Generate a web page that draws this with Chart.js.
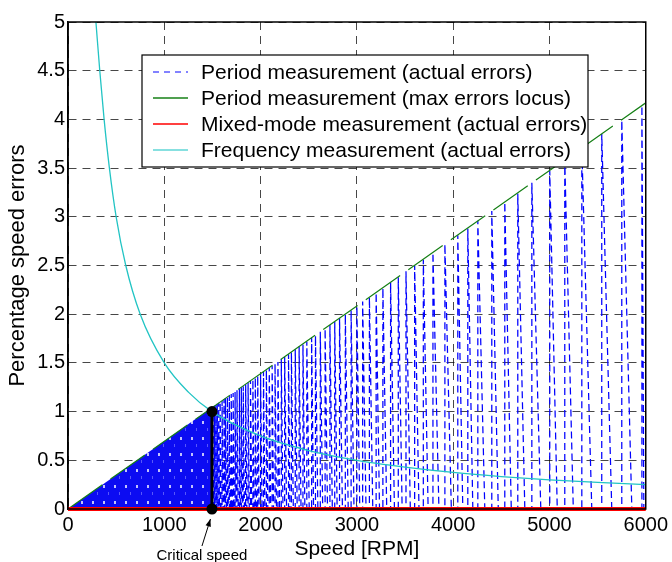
<!DOCTYPE html>
<html>
<head>
<meta charset="utf-8">
<script src="https://cdn.jsdelivr.net/npm/chart.js@4.4.1/dist/chart.umd.min.js"></script>
<style>
  html, body { margin: 0; padding: 0; background: #ffffff; }
  #wrap { width: 672px; height: 562px; position: relative; }
</style>
</head>
<body>
<div id="wrap"><canvas id="c" width="672" height="562"></canvas></div>
<script>
// ---------------- data ----------------
const xTicks = [0, 1000, 2000, 3000, 4000, 5000, 6000];
const xTickLabels = ['0', '1000', '2000', '3000', '4000', '5000', '6000'];
const yTicks = [0, 0.5, 1, 1.5, 2, 2.5, 3, 3.5, 4, 4.5, 5];
const yTickLabels = ['0', '0.5', '1', '1.5', '2', '2.5', '3', '3.5', '4', '4.5', '5'];

// Period measurement (actual errors): positions of the saw-teeth (RPM) and their peak errors (%)
const toothSpeeds = [1505, 1520, 1535, 1550, 1565, 1580, 1600, 1620, 1635, 1655, 1675, 1695, 1715, 1735, 1755,
  1780, 1800, 1820, 1845, 1870, 1895, 1920, 1945, 1970, 2000, 2030, 2060, 2090, 2120, 2150, 2180, 2215,
  2250, 2290, 2320, 2360, 2400, 2440, 2480, 2530, 2570, 2620, 2670, 2720, 2770, 2820, 2880, 2940, 3000,
  3060, 3130, 3200, 3270, 3350, 3430, 3510, 3600, 3690, 3790, 3914, 4048, 4152, 4256, 4401, 4536, 4671,
  4817, 5003, 5159, 5336, 5543, 5751, 5960];
const toothPeaks = [1.05, 1.06, 1.07, 1.08, 1.09, 1.10, 1.11, 1.13, 1.14, 1.15, 1.16, 1.18, 1.19, 1.20, 1.22,
  1.24, 1.25, 1.26, 1.28, 1.30, 1.32, 1.33, 1.35, 1.37, 1.39, 1.41, 1.43, 1.45, 1.47, 1.49, 1.51, 1.54,
  1.56, 1.59, 1.61, 1.64, 1.67, 1.69, 1.72, 1.76, 1.78, 1.82, 1.85, 1.89, 1.92, 1.96, 2.00, 2.04, 2.08,
  2.13, 2.17, 2.22, 2.27, 2.33, 2.38, 2.44, 2.50, 2.56, 2.63, 2.72, 2.81, 2.88, 2.96, 3.06, 3.15, 3.24,
  3.35, 3.47, 3.58, 3.71, 3.85, 3.99, 4.14];
// densely packed low-speed part of the same curve (appears as a solid blue wedge)
const denseSpeeds = [0, 1505];
const denseErrors = [0, 1.05];

// Period measurement (max errors locus)
const locusSpeeds = [0, 6000];
const locusErrors = [0, 4.17];

// Mixed-mode measurement (actual errors)
const mixedSpeeds = [0, 6000];
const mixedErrors = [0, 0];

// Frequency measurement (actual errors)
const freqSpeeds = [290, 330, 375, 430, 500, 600, 750, 1000, 1250, 1495, 2000, 2500, 3000, 3500, 4000, 4500, 5000, 5500, 6000];
const freqErrors = [5.0, 4.5, 4.0, 3.5, 3.0, 2.5, 2.0, 1.5, 1.2, 1.0, 0.75, 0.6, 0.5, 0.43, 0.375, 0.333, 0.3, 0.273, 0.25];

// Critical speed marker
const critSpeeds = [1495, 1495];
const critErrors = [0, 1.0];
const critLabel = 'Critical speed';

const legendLabels = [
  'Period measurement (actual errors)',
  'Period measurement (max errors locus)',
  'Mixed-mode measurement (actual errors)',
  'Frequency measurement (actual errors)'
];
const xTitle = 'Speed [RPM]';
const yTitle = 'Percentage speed errors';

// ---------------- build datasets ----------------
const BLUE = '#0000ff', GREEN = '#168016', RED = '#ff0000', CYAN = '#22c4c4';
const FONT = "'Liberation Sans', Arial, Helvetica, sans-serif";

function pts(xs, ys) { return xs.map((x, i) => ({ x: x, y: ys[i] })); }

const sawPts = [];
for (let i = 0; i < toothSpeeds.length; i++) {
  const x = toothSpeeds[i];
  const next = i + 1 < toothSpeeds.length ? toothSpeeds[i + 1] : 6000;
  const drop = Math.max(2, (next - x) * 0.5);
  sawPts.push({ x: x, y: 0 });
  sawPts.push({ x: x, y: toothPeaks[i] });
  sawPts.push({ x: Math.min(6000, x + drop), y: 0 });
}

// dotted blue texture for the densely packed wedge
function wedgePattern() {
  const c = document.createElement('canvas');
  c.width = 11; c.height = 16;
  const g = c.getContext('2d');
  g.fillStyle = '#0c0cf2';
  g.fillRect(0, 0, 11, 16);
  g.fillStyle = 'rgba(255,255,255,0.75)';
  g.fillRect(4, 5, 2, 3);
  g.fillStyle = 'rgba(140,140,255,0.6)';
  g.fillRect(9, 12, 1, 3);
  return g.createPattern(c, 'repeat');
}

const datasets = [
  { label: 'dense', data: pts(denseSpeeds, denseErrors), borderColor: BLUE, borderWidth: 0,
    backgroundColor: wedgePattern(), fill: 'origin', pointRadius: 0, order: 7 },
  { label: legendLabels[0], data: sawPts, borderColor: BLUE, borderWidth: 1.25, borderDash: [7, 4],
    pointRadius: 0, fill: false, order: 6 },
  { label: legendLabels[1], data: pts(locusSpeeds, locusErrors), borderColor: GREEN, borderWidth: 1.2,
    borderDash: [42, 10], pointRadius: 0, fill: false, order: 5 },
  { label: legendLabels[3], data: pts(freqSpeeds, freqErrors), borderColor: CYAN, borderWidth: 1.3,
    pointRadius: 0, fill: false, cubicInterpolationMode: 'monotone', order: 4 },
  { label: legendLabels[2], data: pts(mixedSpeeds, mixedErrors), borderColor: RED, borderWidth: 4,
    pointRadius: 0, fill: false, clip: false, order: 3 },
  { label: 'critical', data: pts(critSpeeds, critErrors), borderColor: '#000000', borderWidth: 3,
    pointRadius: 5.5, pointBackgroundColor: '#000000', pointBorderColor: '#000000', pointBorderWidth: 0,
    fill: false, clip: false, order: 1 }
];

// ---------------- plugins ----------------
const framePlugin = {
  id: 'frame',
  afterDatasetsDraw(chart) {
    const { ctx, chartArea: a, scales } = chart;
    ctx.save();
    ctx.strokeStyle = '#000000';
    ctx.lineWidth = 1.5;
    ctx.setLineDash([]);
    ctx.strokeRect(a.left, a.top, a.right - a.left, a.bottom - a.top);

    // legend box
    const bx = 142, by = 55, bw = 446, bh = 112;
    ctx.fillStyle = '#ffffff';
    ctx.fillRect(bx, by, bw, bh);
    ctx.lineWidth = 1.2;
    ctx.strokeRect(bx, by, bw, bh);
    const rows = [72, 98, 124, 150];
    const styles = [
      { c: '#5a5aff', dash: [6, 5], w: 1.3 },
      { c: GREEN, dash: [], w: 1.3 },
      { c: RED, dash: [], w: 1.3 },
      { c: '#5fd6d6', dash: [], w: 1.6 }
    ];
    ctx.font = '21px ' + FONT;
    ctx.textBaseline = 'middle';
    ctx.textAlign = 'left';
    for (let i = 0; i < 4; i++) {
      ctx.beginPath();
      ctx.setLineDash(styles[i].dash);
      ctx.strokeStyle = styles[i].c;
      ctx.lineWidth = styles[i].w;
      ctx.moveTo(153, rows[i]);
      ctx.lineTo(188, rows[i]);
      ctx.stroke();
      ctx.setLineDash([]);
      ctx.fillStyle = '#000000';
      ctx.fillText(legendLabels[i], 201, rows[i] + 1);
    }

    // critical speed annotation
    const px = scales.x.getPixelForValue(critSpeeds[0]);
    const py = scales.y.getPixelForValue(critErrors[0]);
    const tipX = px - 1.5, tipY = py + 10;
    const tailX = px - 10, tailY = py + 37;
    ctx.strokeStyle = '#000000';
    ctx.fillStyle = '#000000';
    ctx.lineWidth = 1;
    ctx.beginPath();
    ctx.moveTo(tailX, tailY);
    ctx.lineTo(tipX, tipY);
    ctx.stroke();
    const ang = Math.atan2(tipY - tailY, tipX - tailX);
    ctx.beginPath();
    ctx.moveTo(tipX, tipY);
    ctx.lineTo(tipX - 8 * Math.cos(ang - 0.35), tipY - 8 * Math.sin(ang - 0.35));
    ctx.lineTo(tipX - 8 * Math.cos(ang + 0.35), tipY - 8 * Math.sin(ang + 0.35));
    ctx.closePath();
    ctx.fill();
    ctx.font = '15px ' + FONT;
    ctx.textAlign = 'center';
    ctx.textBaseline = 'middle';
    ctx.fillText(critLabel, px - 10, py + 47);
    ctx.restore();
  }
};

// ---------------- chart ----------------
new Chart(document.getElementById('c'), {
  type: 'line',
  data: { datasets: datasets },
  options: {
    responsive: false,
    animation: false,
    parsing: false,
    normalized: true,
    layout: { padding: { left: 0, right: 26, top: 22, bottom: 0 } },
    plugins: { legend: { display: false }, tooltip: { enabled: false } },
    elements: { line: { tension: 0 } },
    scales: {
      x: {
        type: 'linear', min: 0, max: 6000,
        afterBuildTicks: (s) => { s.ticks = xTicks.map(v => ({ value: v })); },
        afterFit: (s) => { s.height = 53; },
        ticks: {
          color: '#000000', padding: 4, maxRotation: 0, autoSkip: false,
          font: { family: FONT, size: 20 },
          callback: (v) => xTickLabels[xTicks.indexOf(v)]
        },
        grid: { color: 'rgba(0,0,0,0.72)', lineWidth: 1, drawTicks: false },
        border: { display: true, color: '#000000', width: 1.5, dash: [8, 6] },
        title: { display: true, text: xTitle, color: '#000000', font: { family: FONT, size: 21 }, padding: { top: 0, bottom: 0 } }
      },
      y: {
        type: 'linear', min: 0, max: 5,
        afterBuildTicks: (s) => { s.ticks = yTicks.map(v => ({ value: v })); },
        afterFit: (s) => { s.width = 68; },
        ticks: {
          color: '#000000', padding: 3, autoSkip: false,
          font: { family: FONT, size: 20 },
          callback: (v) => yTickLabels[yTicks.indexOf(v)]
        },
        grid: { color: 'rgba(0,0,0,0.72)', lineWidth: 1, drawTicks: false },
        border: { display: true, color: '#000000', width: 1.5, dash: [8, 6] },
        title: { display: true, text: yTitle, color: '#000000', font: { family: FONT, size: 22 }, padding: { top: 5, bottom: 0 } }
      }
    }
  },
  plugins: [framePlugin]
});
</script>
</body>
</html>
